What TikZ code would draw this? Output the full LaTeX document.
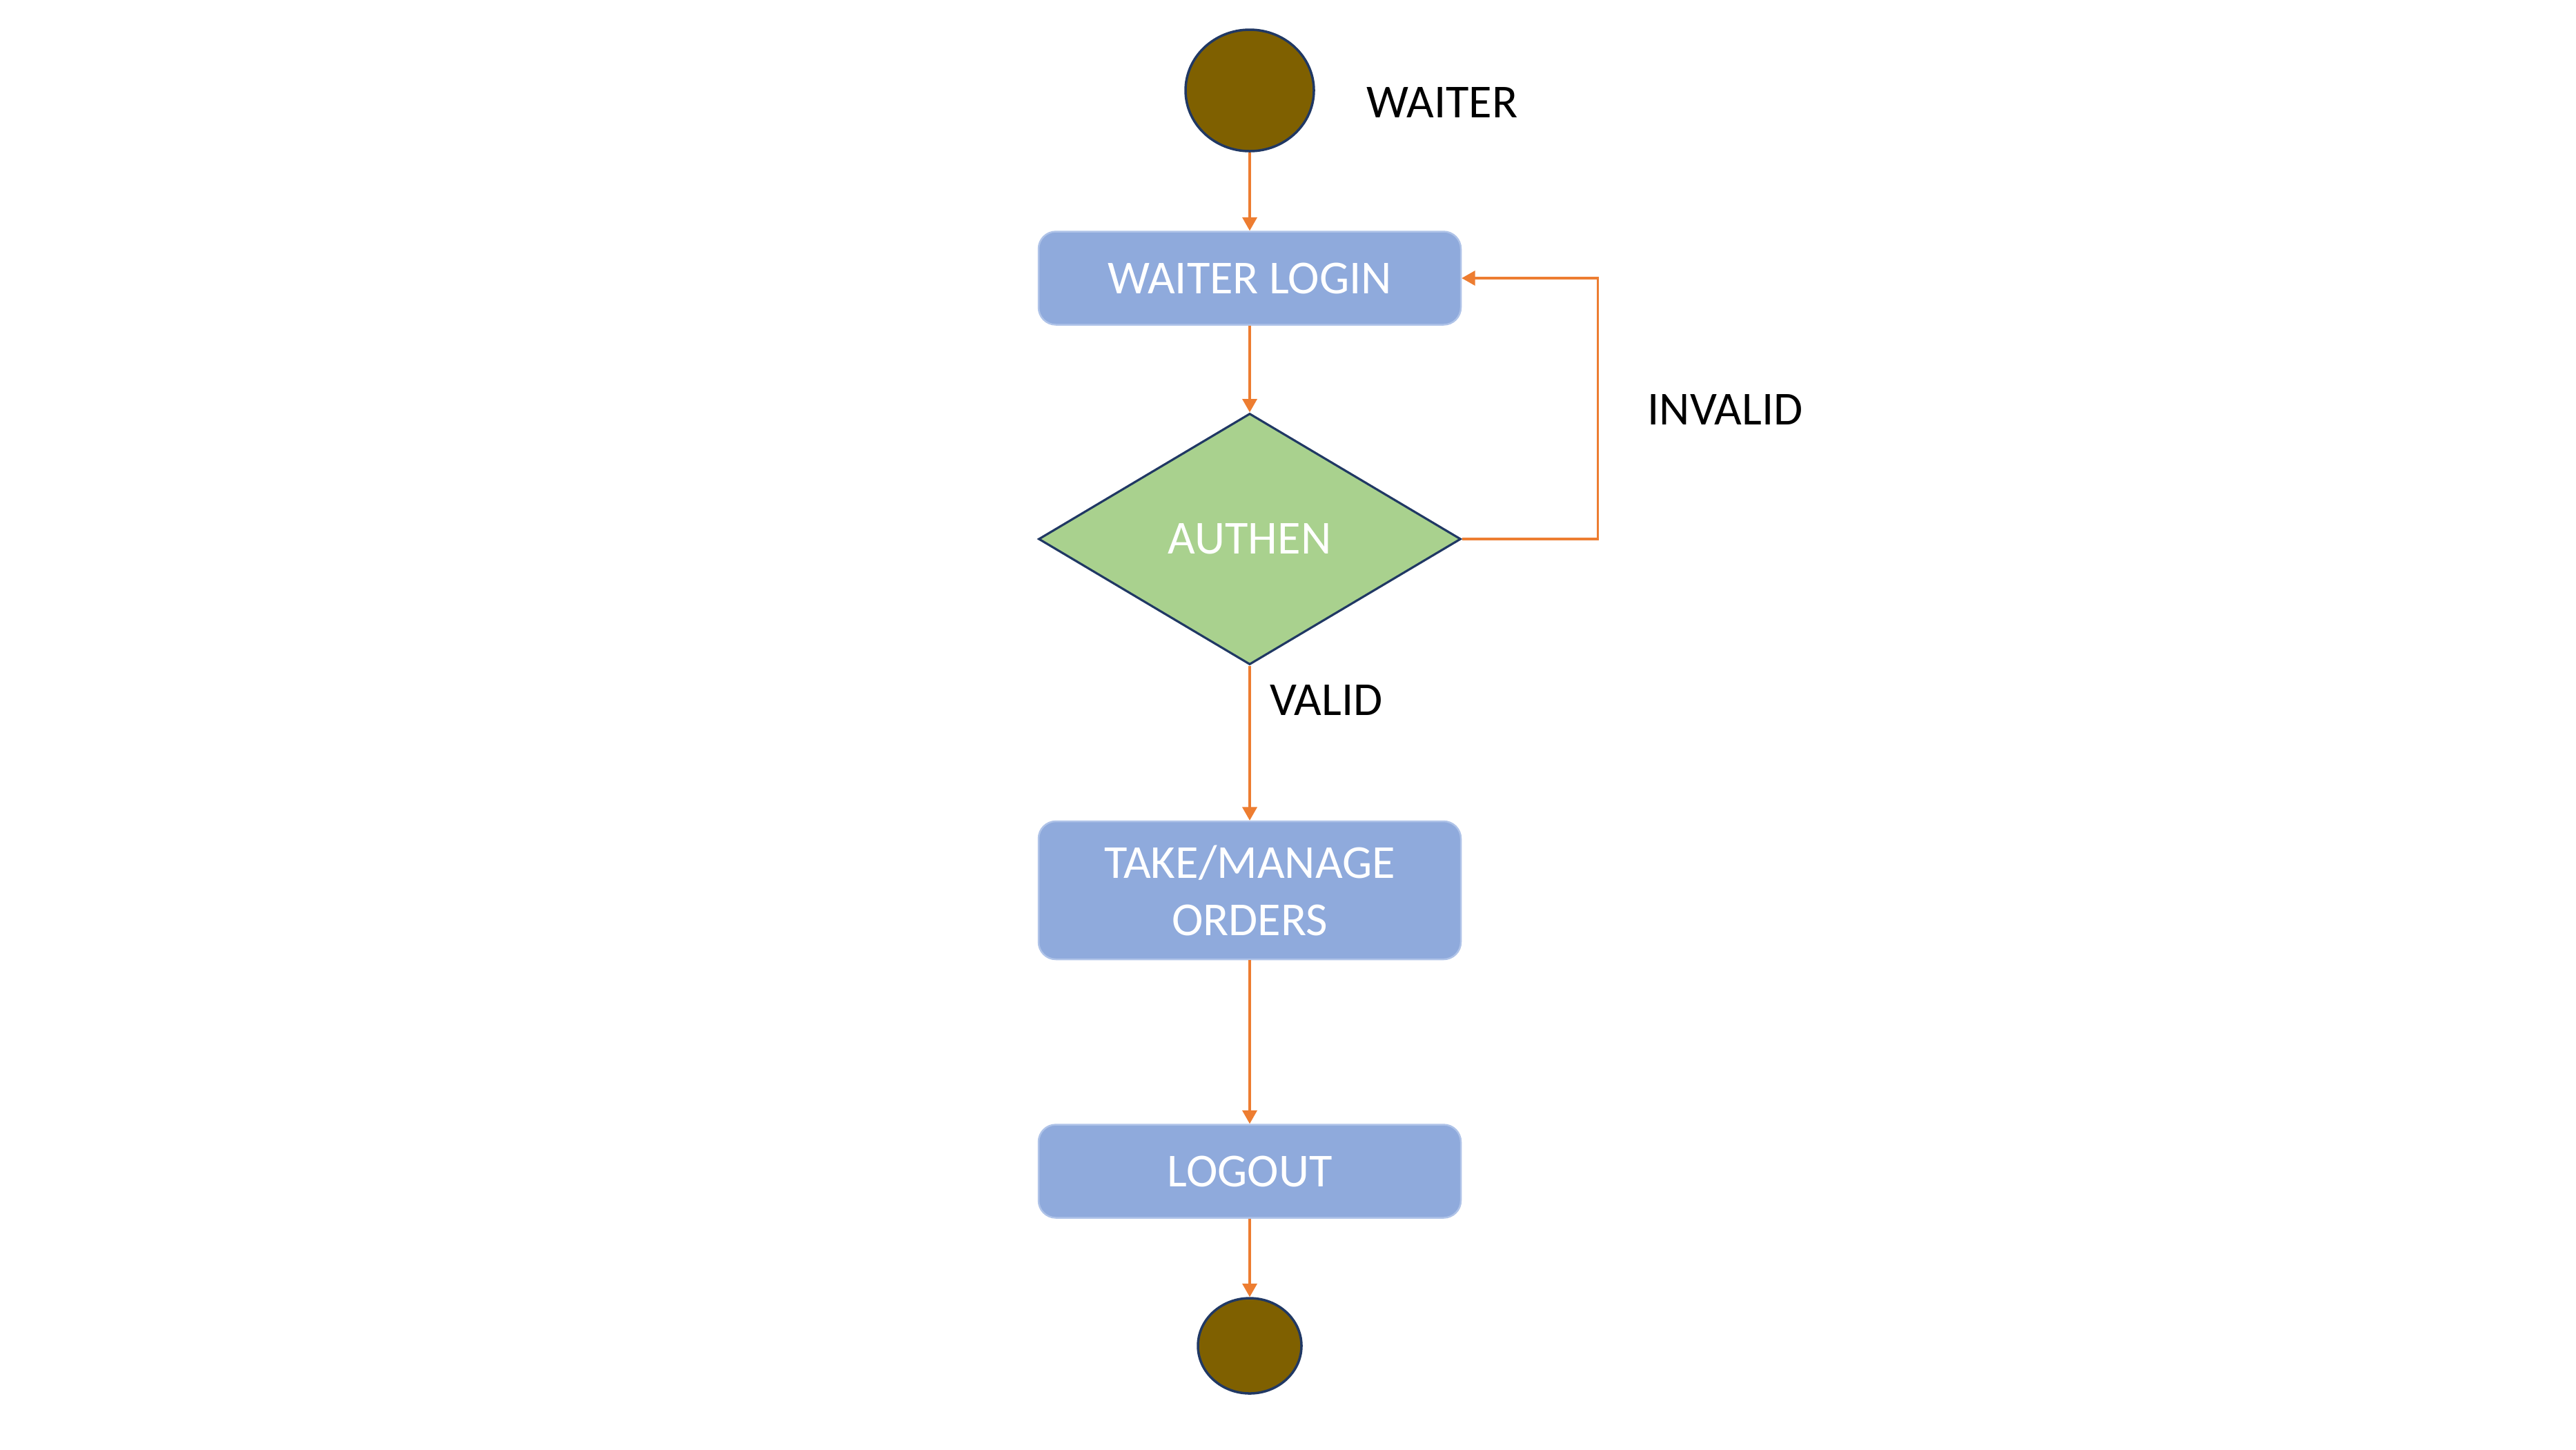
\documentclass[tikz,border=0pt]{standalone}
\usepackage{fontspec}
\setmainfont{Carlito}
\usepackage{tikz}
\usetikzlibrary{arrows.meta, positioning, shapes.geometric, calc}
\definecolor{dotbrown}{HTML}{7F6000}
\definecolor{navy}{HTML}{203864}
\definecolor{boxblue}{HTML}{8FAADC}
\definecolor{boxedge}{HTML}{AFC3E8}
\definecolor{dgreen}{HTML}{A9D18E}
\definecolor{flow}{HTML}{ED7D31}

\begin{document}
\begin{tikzpicture}[
            endpt/.style = {ellipse, draw=navy, line width=1pt, fill=dotbrown, inner sep=0pt},
            act/.style = {rectangle, rounded corners=0.25cm, draw=boxedge, line width=0.7pt,
                fill=boxblue, text=white, minimum width=6.12cm, align=center,
                font=\fontsize{19.5}{23.6}\selectfont},
            check/.style = {diamond, draw=navy, line width=0.9pt, fill=dgreen, text=white,
                inner sep=0pt, minimum width=6.12cm, minimum height=3.64cm,
                font=\fontsize{19.5}{23.6}\selectfont},
            lbl/.style = {font=\fontsize{19.5}{23.6}\selectfont, inner sep=0pt},
            flowline/.style = {draw=flow, line width=0.9pt},
            >={Triangle[length=5.5pt,width=6pt]}]
            \def\cx{18.11}
            \useasboundingbox (0,0) rectangle (37.33,-21);
            \node[endpt, minimum width=1.86cm, minimum height=1.76cm] (start) at (\cx,-1.31) {};
            \node[lbl] (waiter) at (20.90,-1.48) {WAITER};
            \node[act, minimum height=1.35cm] (login) at (\cx,-4.03) {WAITER LOGIN};
            \node[check] (authen) at (\cx,-7.81) {AUTHEN};
            \node[act, minimum height=2.00cm] (orders) at (\cx,-12.90) {TAKE/MANAGE\\ORDERS};
            \node[act, minimum height=1.35cm] (logout) at (\cx,-16.97) {LOGOUT};
            \node[endpt, minimum width=1.50cm, minimum height=1.38cm] (stop) at (\cx,-19.50) {};
            \coordinate (loop) at ($(authen.east)+(1.97,0)$);
            \node[lbl] (invalid) at (25.00,-5.93) {INVALID};
            \node[lbl] (valid) at (19.22,-10.14) {VALID};
            \draw[flowline,->] (start) -- (login);
            \draw[flowline,->] (login) -- (authen);
            \draw[flowline,->] (authen.east) -- (loop) |- (login.east);
            \draw[flowline,->] (authen.south) -- (orders);
            \draw[flowline,->] (orders) -- (logout);
            \draw[flowline,->] (logout) -- (stop);
        \end{tikzpicture}
\end{document}
